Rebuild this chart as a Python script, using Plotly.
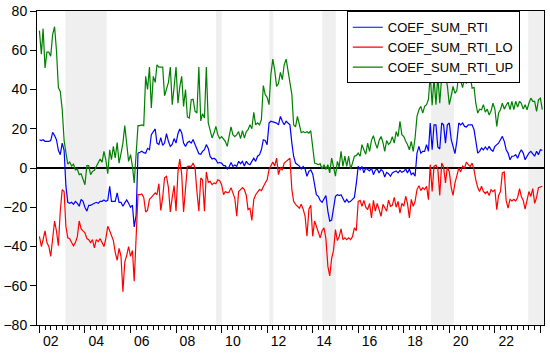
import pandas as pd
import plotly.graph_objects as go

start_month = "2002-01-01"

coef_sum_rti = [
    14.4, 14, 14.4, 13.6, 13.6, 13.6, 14, 18.2, 16.5, 14.4,
    9, 6.8, 12.7, 9, -9, -17.5, -18, -17.5, -18.5, -17,
    -18, -19.5, -16, -17, -20, -22, -19, -19, -18.5, -18,
    -17.5, -18, -17, -17, -16.3, -17, -16.5, -9.3, -17, -17,
    -17, -12.7, -17.5, -17.5, -19.5, -17.8, -16.3, -18, -20, -19,
    -30, -24, 7.6, 8, 8.5, 7.8, 7.5, 10, 9.3, 17,
    18.7, 19.9, 12.7, 12, 15.5, 11.5, 12.7, 17.5, 13.6, 11,
    12, 15, 12.7, 17.5, 19.9, 18, 12.7, 11, 12.9, 13.6,
    12.7, 14.5, 12, 10, 7.3, 7, 8.5, 9.3, 11.9, 10,
    5.9, 4.6, 5, 4.2, 2.5, 2.8, 2.5, 1.2, 1.2, -0.5,
    0.5, 2.8, 0.8, 1.5, 0.8, 3.4, 2.2, 3.4, 1, 3.4,
    2.2, 1.7, 3.4, 5, 3.4, 6, 6.8, 9.3, 14.4, 14,
    11.9, 22.9, 23.8, 23.4, 22.9, 22.9, 22, 26.3, 23.8, 22,
    23.8, 23, 22, 12.7, 6, 2.5, 1.7, 1, -0.5, 0.8,
    -0.5, -4.2, -1.7, -1, -3, -10, -13.6, -14.4, -16.5, -17.5,
    -15.5, -14, -22, -27, -26.5, -20.5, -14.4, -13.6, -14, -13.6,
    -16, -17.5, -16, -17.5, -17, -16, -15, -8, 0.8, -0.8,
    0.8, -2.5, 0, -0.8, -1.5, 0, -3.4, -1.2, -0.5, -2.5,
    -0.8, -1.7, -4.6, -2.2, -2.9, -4.2, -2.5, -1.9, -1.5, -2.5,
    -1.2, -2.2, -1.7, -0.5, -2.5, -0.5, -3.4, -2.5, -4.2, 7.6,
    11, 7.6, 8.5, 8.5, 11.9, 8.5, 22.9, 9.3, 22, 22,
    10.7, 9.7, 22.9, 22, 12.7, 22, 22.9, 14.4, 10.2, 7.3,
    13.6, 22.9, 22, 22.9, 21.2, 20.9, 22, 22, 22, 19.5,
    12.7, 7.6, 8.5, 10.2, 9.3, 10.7, 9.3, 11, 9.3, 8.5,
    11, 11.9, 12.7, 14.4, 16.1, 13.6, 9.3, 7.6, 4.2, 6,
    6, 6.8, 5, 7.6, 9.3, 7.6, 4.2, 6, 7.6, 8.5,
    7.3, 6, 8.5, 6.8, 9.3, 9,
]

coef_sum_rti_lo = [
    -34.8, -40, -36.5, -32, -38, -40, -45, -35.6, -27, -32,
    -39.6, -22, -11, -12, -29.7, -35.6, -36, -38, -39.6, -38,
    -35, -27, -31, -32, -33, -36, -36.5, -38, -36.5, -40.7,
    -36.5, -37.5, -36, -38, -40, -36, -29.7, -32, -35, -37,
    -43, -47, -41, -45, -63, -48, -44.5, -40, -45, -42,
    -57.7, -37, -13.6, -13.6, -13.2, -15, -22.4, -21.5, -16, -15,
    -14, -12.7, -13.6, -8, -21.6, -15, -5, -4.2, -10, -22.4,
    -15, -9, -22, -2, 4.6, -3.4, -22.4, -12, 0.8, 1,
    0.8, 2.5, 0, -12, -22, -5.1, -6, -22, -2, -7.3,
    -6.8, -8.5, -7.6, -8, -6, -6.5, -8.5, -13.6, -12, -12.5,
    -12.3, -10, -13, -15.5, -24.6, -12, -11, -10, -11, -14,
    -21.2, -20.5, -26.7, -16, -13.6, -12, -11, -11.5, -9.3, -7.6,
    -6, -0.8, 1, 3, 1, 5, -3.4, 0, -1, 2.5,
    3.4, 4.2, 5, -11, -17, -18.5, -19.5, -20.5, -18.5, -21,
    -24.6, -34.8, -21, -19, -34.8, -27, -29.7, -33, -35.6, -32,
    -30.5, -36, -50, -55, -46, -42, -31.4, -37, -35, -31,
    -36.5, -35.6, -36.5, -35.6, -36.5, -35, -30.5, -32, -17, -16.5,
    -19.5, -16.5, -20, -21.2, -18, -25.5, -16.5, -22, -18, -21.2,
    -24.6, -18.5, -20.5, -22, -16.3, -19.5, -19, -15, -20, -17,
    -23, -18, -19.5, -14.4, -18, -25.5, -16, -19.5, -17, -11,
    -9, -11.5, -10, -11, -9.3, -16.1, 1.7, -12, 0.8, 1.5,
    -0.5, -14, 2.5, 0.5, -7.6, 0.5, -2, -10, -14, -7.6,
    -4, 0, -2, 1, 0, 3, 1.7, 0.8, 2.5, -1,
    -6, -10, -12, -9.3, -11.9, -13, -12, -14, -11, -12,
    -11, -21.2, -14, -12, -2.5, -2, -16.5, -20.5, -16, -16.8,
    -16, -16.8, -15, -10.5, -14.5, -16.5, -21, -16, -12, -14.5,
    -10.5, -18, -15, -10, -9.5, -9.3,
]

coef_sum_rti_up = [
    70, 58, 71, 51, 59, 59, 57, 68, 72, 60,
    41, 39, 30, 14, 8, 2, 3, 1, 2, -1,
    -0.5, -3.4, -3, -6, -8.5, 1.2, 1.2, -3.4, -1.7, -1.2,
    0.8, 2.2, 4.6, 2.9, 8.5, 4.2, -2.9, 9.3, 4.2, 11,
    5.1, 13, 2.5, 7.3, 12.7, 21.6, 11.9, 3.4, 6.8, 0.8,
    -7.6, 7.6, 21.6, 21.6, 22, 21.6, 46.7, 40, 51.4, 30.6,
    46.7, 43.6, 52.6, 51.4, 51.4, 51.4, 36.8, 40.7, 43.6, 51.4,
    32.3, 41.3, 51.4, 33, 41.3, 46.7, 31.4, 40, 26, 25.5,
    34.8, 35, 28.9, 28, 51.4, 24, 27.7, 25.5, 51.4, 23,
    19.5, 15.3, 17.8, 21.2, 17, 15, 16, 15, 13.6, 11,
    17, 21, 17, 16, 17, 18.5, 15, 19, 15.3, 18.5,
    19.5, 22, 20, 28.4, 22, 23, 22, 24.6, 42, 37.4,
    36, 32.3, 47.5, 55.5, 50, 41.6, 43, 48.7, 45, 52.6,
    55.5, 49, 44, 37.4, 22, 21, 26.3, 21.2, 18, 18.5,
    18, 18.5, 17.8, 19, 11, 2.5, 2.2, 1.7, 2.2, -0.5,
    1.7, -0.8, 1.7, -2.5, 5, 0.8, -4.2, 3.4, 0.5, 8.5,
    0.8, 6, 0.8, 6, -0.5, 2.5, 6, 6.3, 7.6, 6,
    11.9, 9.3, 7, 12.7, 8.5, 14.1, 16.5, 12.7, 10, 14,
    16.1, 13, 8.5, 14, 12, 13, 16, 12.7, 18.5, 16,
    23.8, 17, 16, 13.6, 12, 9.3, 13.6, 8.5, 15.3, 26.3,
    29.7, 31.4, 28, 31.4, 32.3, 35, 47.5, 32, 45.8, 32.3,
    46.7, 33, 46.7, 47, 46, 42, 32.3, 36.8, 41.6, 38,
    39.5, 48, 44, 41, 45.8, 43, 45.8, 47, 40.7, 41,
    33, 28, 30, 29.7, 32.3, 28.5, 30, 27, 29, 33,
    30, 21.2, 28, 29.7, 33, 30, 32, 33.5, 29.7, 34,
    29.7, 34, 31, 34, 33, 30, 32.3, 29.7, 33, 35.6,
    34, 34, 28.9, 34.8, 35.6, 29.7,
]

series_names = ["COEF_SUM_RTI", "COEF_SUM_RTI_LO", "COEF_SUM_RTI_UP"]
series_colors = ["#0000FF", "#FF0000", "#008000"]

band_starts = ["2003-02-20", "2009-10-03", "2012-02-06", "2014-06-03", "2019-03-12", "2023-06-20"]
band_ends = ["2004-12-15", "2010-01-03", "2012-04-10", "2015-01-06", "2020-03-15", "2024-03-01"]

label_years = list(range(2002, 2023, 2))
tick_labels = [f"{y % 100:02d}" for y in label_years]
major_tick_years = list(range(2002, 2025, 2))

x_range = ["2001-11-23", "2024-02-28"]
y_ticks = list(range(-80, 81, 20))

FONT = "Liberation Sans, Arial, sans-serif"

fig = go.Figure()
for name, vals, col in zip(series_names,
                           [coef_sum_rti, coef_sum_rti_lo, coef_sum_rti_up],
                           series_colors):
    dates = pd.date_range(start_month, periods=len(vals), freq="MS")
    fig.add_trace(go.Scatter(x=dates, y=vals, mode="lines", name=name,
                             line=dict(color=col, width=1.2)))

# helper trace so the label axis exists
first_dates = pd.date_range(start_month, periods=1, freq="MS")
fig.add_trace(go.Scatter(x=first_dates, y=[0], xaxis="x2", yaxis="y", mode="markers",
                         marker=dict(opacity=0), showlegend=False, hoverinfo="skip"))

for s, e in zip(band_starts, band_ends):
    fig.add_shape(type="rect", xref="x", yref="paper", x0=s, x1=e, y0=0, y1=1,
                  fillcolor="#EFEFEF", line=dict(width=0), layer="below")

fig.update_layout(
    width=550, height=356,
    margin=dict(l=37, r=6, t=11, b=31, autoexpand=False),
    paper_bgcolor="white", plot_bgcolor="white",
    font=dict(family=FONT, size=14, color="black"),
    showlegend=True,
    legend=dict(x=0.611, y=0.999, xanchor="left", yanchor="top",
                bgcolor="white", bordercolor="black", borderwidth=1,
                font=dict(family=FONT, size=13), tracegroupgap=0),
    xaxis=dict(
        type="date", range=x_range, automargin=False,
        tickmode="array",
        tickvals=[f"{y}-01-01" for y in major_tick_years],
        showticklabels=False,
        ticks="outside", ticklen=7, tickcolor="black", tickwidth=1,
        minor=dict(dtick="M3", tick0="2002-01-01", ticks="outside", ticklen=4,
                   tickcolor="black", tickwidth=1, showgrid=False),
        showline=True, linecolor="black", linewidth=1, mirror=True,
        showgrid=False, zeroline=False,
    ),
    xaxis2=dict(
        type="date", range=x_range, overlaying="x", side="bottom", anchor="y",
        automargin=False,
        tickmode="array",
        tickvals=[f"{y}-07-01" for y in label_years],
        ticktext=tick_labels,
        ticks="", ticklabelstandoff=6,
        tickfont=dict(family=FONT, size=14),
        showline=False, showgrid=False, zeroline=False,
    ),
    yaxis=dict(
        range=[-80, 80], tickmode="array", tickvals=y_ticks, automargin=False,
        ticks="outside", ticklen=6, tickcolor="black",
        tickfont=dict(family=FONT, size=14),
        showline=True, linecolor="black", linewidth=1, mirror=True,
        showgrid=False, zeroline=True, zerolinecolor="black", zerolinewidth=1.5,
    ),
)

fig.write_html("out.html", config={"displayModeBar": False},
               post_script="document.body.style.margin='0px';document.body.style.padding='0px';")
